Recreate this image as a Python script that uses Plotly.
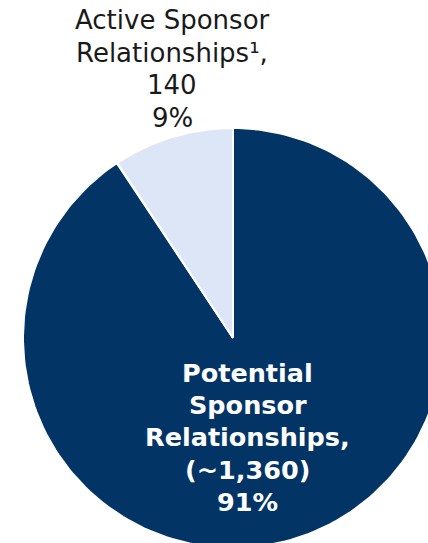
import numpy as np
import plotly.graph_objects as go

# Sponsor relationship split
categories = ["Potential Sponsor Relationships", "Active Sponsor Relationships"]
values = [1360, 140]
colors = ["#033466", "#dde6f6"]
label_lines = [
    ["Potential", "Sponsor", "Relationships,", "(~1,360)", "91%"],
    ["Active Sponsor", "Relationships\u00b9,", "140", "9%"],
]

W, H = 428, 543
CX, CY, R = 233, 338, 210  # pie centre / radius in pixels

fig = go.Figure()

total = sum(values)
start = 0.0
for name, val, col in zip(categories, values, colors):
    frac = val / total
    th = np.linspace(start, start + frac, 200) * 2 * np.pi  # clockwise from top
    xs = np.concatenate([[0], np.sin(th), [0]])
    ys = np.concatenate([[0], np.cos(th), [0]])
    fig.add_trace(go.Scatter(
        x=xs, y=ys, mode="lines", fill="toself", fillcolor=col,
        line=dict(color="white", width=2), name=name, hoverinfo="name",
        showlegend=False,
    ))
    start += frac

# axis ranges so that the unit circle lands at (CX, CY) with radius R pixels
fig.update_xaxes(range=[-CX / R, (W - CX) / R], visible=False, fixedrange=True)
fig.update_yaxes(range=[(CY - H) / R, CY / R], visible=False, fixedrange=True)

FONT = "Verdana, DejaVu Sans, sans-serif"
# active label (above the pie)
for i, t in enumerate(label_lines[1]):
    fig.add_annotation(text=t, xref="paper", yref="paper", x=172 / W,
                       y=1 - (20 + 32.5 * i) / H, showarrow=False,
                       xanchor="center", yanchor="middle",
                       font=dict(family=FONT, size=26, color="#1a1a1a"))
# potential label (inside the pie)
for i, t in enumerate(label_lines[0]):
    fig.add_annotation(text="<b>" + t + "</b>", xref="paper", yref="paper",
                       x=248 / W, y=1 - (373 + 32.2 * i) / H, showarrow=False,
                       xanchor="center", yanchor="middle",
                       font=dict(family=FONT, size=25.5, color="white"))

fig.update_layout(width=W, height=H, margin=dict(l=0, r=0, t=0, b=0),
                  paper_bgcolor="white", plot_bgcolor="white")
fig.write_html("out.html")
